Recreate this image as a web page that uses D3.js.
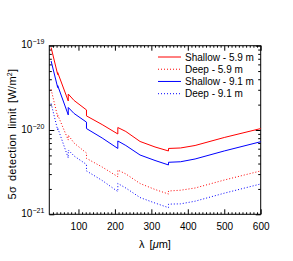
<!DOCTYPE html>
<html>
<head>
<meta charset="utf-8">
<script src="https://cdn.jsdelivr.net/npm/d3@7"></script>
<style>
    body { margin: 0; background: #fff; }
    svg text { font-family: "Liberation Sans", Arial, sans-serif; fill: #000; }
</style>
</head>
<body>
<div class="js-chart"></div>
<script>
'use strict';

// wavelength grid (um), repeated points are the band edges where the curves jump
const wavelengths = [25, 43, 43, 72, 72, 88, 122, 122, 165, 208, 208, 230, 269, 310, 347, 347, 380, 420, 500, 600];

// 5 sigma line detection limits (W/m^2)
const shallow59 = [9.52e-20, 4.55e-20, 4.81e-20, 2.21e-20, 2.67e-20, 2.24e-20, 1.73e-20, 1.47e-20, 1.16e-20, 8.97e-21,
                   1.07e-20, 9.6e-21, 7.31e-21, 6.29e-21, 5.64e-21, 6.04e-21, 6.12e-21, 6.55e-21, 8.15e-21, 1.04e-20];
const deep59 = [3.02e-20, 1.43e-20, 1.51e-20, 7.6e-21, 8.7e-21, 7.0e-21, 5.33e-21, 4.61e-21, 3.64e-21, 2.79e-21,
                3.35e-21, 3.01e-21, 2.32e-21, 1.97e-21, 1.74e-21, 1.89e-21, 1.93e-21, 2.05e-21, 2.55e-21, 3.27e-21];
const shallow91 = [6.58e-20, 3.19e-20, 3.37e-20, 1.51e-20, 1.85e-20, 1.57e-20, 1.24e-20, 1.04e-20, 8.04e-21, 6.04e-21,
                   7.41e-21, 6.55e-21, 5.05e-21, 4.35e-21, 3.85e-21, 4.14e-21, 4.2e-21, 4.53e-21, 5.64e-21, 7.26e-21];
const deep91 = [2.06e-20, 1.0e-20, 1.06e-20, 4.66e-21, 5.79e-21, 4.92e-21, 3.9e-21, 3.27e-21, 2.52e-21, 1.86e-21,
                2.32e-21, 2.05e-21, 1.58e-21, 1.36e-21, 1.2e-21, 1.32e-21, 1.33e-21, 1.43e-21, 1.78e-21, 2.29e-21];

const seriesNames = ["Shallow - 5.9 m", "Deep - 5.9 m", "Shallow - 9.1 m", "Deep - 9.1 m"];
const seriesValues = [shallow59, deep59, shallow91, deep91];

const xTickValues = [100, 200, 300, 400, 500, 600];
const yTickExponents = [-21, -20, -19];

function drawChart() {

    const svgWidth = 293;
    const svgHeight = 261;
    const left = 49.3, right = 260.7, top = 45.7, bottom = 214.3;

    const lineColors = ["#ff0000", "#ff0000", "#0000ff", "#0000ff"];
    const lineDashes = [null, "1,2", null, "1,2"];

    let x = d3.scaleLinear().domain([20, 600]).range([left, right]);
    let y = d3.scaleLog().domain([1e-21, 1e-19]).range([bottom, top]);

    let svg = d3.select(".js-chart")
                .append("svg")
                .attr("width", svgWidth)
                .attr("height", svgHeight);

    // minor ticks every 10 um on x, 2..9 on the log y axis
    const xMinor = d3.range(30, 600, 10).filter(d => d % 100 !== 0);
    const yMinor = [];
    for (let e = -21; e < -19; e++) {
        for (let m = 2; m <= 9; m++) {
            yMinor.push(m * Math.pow(10, e));
        }
    }

    const addAxis = function(axis, tx, ty) {
        svg.append("g")
            .attr("transform", `translate(${tx},${ty})`)
            .call(axis)
            .call(g => g.select(".domain").remove())
            .call(g => g.selectAll("line").attr("stroke", "#000"));
    };

    addAxis(d3.axisBottom(x).tickValues(xMinor).tickSize(-2).tickFormat(""), 0, bottom);
    addAxis(d3.axisTop(x).tickValues(xMinor).tickSize(-2).tickFormat(""), 0, top);
    addAxis(d3.axisTop(x).tickValues(xTickValues).tickSize(-5).tickFormat(""), 0, top);
    addAxis(d3.axisLeft(y).tickValues(yMinor).tickSize(-2.5).tickFormat(""), left, 0);
    addAxis(d3.axisRight(y).tickValues(yMinor).tickSize(-2.5).tickFormat(""), right, 0);
    addAxis(d3.axisRight(y).tickValues(yTickExponents.map(e => Math.pow(10, e))).tickSize(-5).tickFormat(""), right, 0);

    // bottom axis with labels
    svg.append("g")
        .attr("transform", `translate(0,${bottom})`)
        .call(d3.axisBottom(x).tickValues(xTickValues).tickSize(-5).tickPadding(9))
        .call(g => g.select(".domain").remove())
        .call(g => g.selectAll("line").attr("stroke", "#000"))
        .call(g => g.selectAll("text")
            .attr("font-size", "10px")
            .attr("font-family", "'Liberation Sans', Arial, sans-serif")
            .attr("fill", "#000"));

    // left axis, labels as 10^n
    let yAxisG = svg.append("g")
        .attr("transform", `translate(${left},0)`)
        .call(d3.axisLeft(y).tickValues(yTickExponents.map(e => Math.pow(10, e))).tickSize(-5).tickPadding(5).tickFormat(""))
        .call(g => g.select(".domain").remove())
        .call(g => g.selectAll("line").attr("stroke", "#000"));

    yAxisG.selectAll(".tick text")
        .attr("font-size", "10px")
        .attr("fill", "#000")
        .attr("dy", "0.2em")
        .each(function(d) {
            const t = d3.select(this);
            t.append("tspan").text("10");
            t.append("tspan")
                .attr("dy", "-4")
                .attr("font-size", "7px")
                .text("\u2212" + (-Math.round(Math.log10(d))));
        });

    // plot frame
    svg.append("rect")
        .attr("x", left)
        .attr("y", top)
        .attr("width", right - left)
        .attr("height", bottom - top)
        .attr("fill", "none")
        .attr("stroke", "#000")
        .attr("stroke-width", 1);

    // curves
    const line = d3.line()
        .x((d, i) => x(wavelengths[i]))
        .y(d => y(d));

    svg.append("g")
        .selectAll("path")
        .data(seriesValues)
        .enter()
        .append("path")
        .attr("d", d => line(d))
        .attr("fill", "none")
        .attr("stroke", (d, i) => lineColors[i])
        .attr("stroke-width", 1)
        .attr("stroke-dasharray", (d, i) => lineDashes[i]);

    // legend
    const legendY = d3.scalePoint().domain(seriesNames).range([57, 93.7]);

    let legend = svg.append("g")
        .selectAll("g")
        .data(seriesNames)
        .enter()
        .append("g")
        .attr("transform", d => `translate(0,${legendY(d)})`);

    legend.append("line")
        .attr("x1", 158)
        .attr("x2", 181)
        .attr("stroke", (d, i) => lineColors[i])
        .attr("stroke-width", 1)
        .attr("stroke-dasharray", (d, i) => lineDashes[i]);

    legend.append("text")
        .attr("x", 185)
        .attr("dy", "0.35em")
        .attr("font-size", "10px")
        .text(d => d);

    // axis titles
    let xTitle = svg.append("text")
        .attr("x", (left + right) / 2)
        .attr("y", 248)
        .attr("text-anchor", "middle")
        .attr("font-size", "11px")
        .attr("word-spacing", "2px");
    xTitle.append("tspan").text("\u03bb [");
    xTitle.append("tspan").attr("font-style", "italic").text("\u03bc");
    xTitle.append("tspan").text("m]");

    let yTitle = svg.append("text")
        .attr("transform", `translate(16,${(top + bottom) / 2 + 4}) rotate(-90)`)
        .attr("text-anchor", "middle")
        .attr("font-size", "11px")
        .attr("letter-spacing", "0.3px")
        .attr("word-spacing", "1.5px");
    yTitle.append("tspan").text("5\u03c3 detection limit [W/m");
    yTitle.append("tspan").attr("dy", "-4").attr("font-size", "7px").text("2");
    yTitle.append("tspan").attr("dy", "4").text("]");
}

drawChart();
</script>
</body>
</html>
